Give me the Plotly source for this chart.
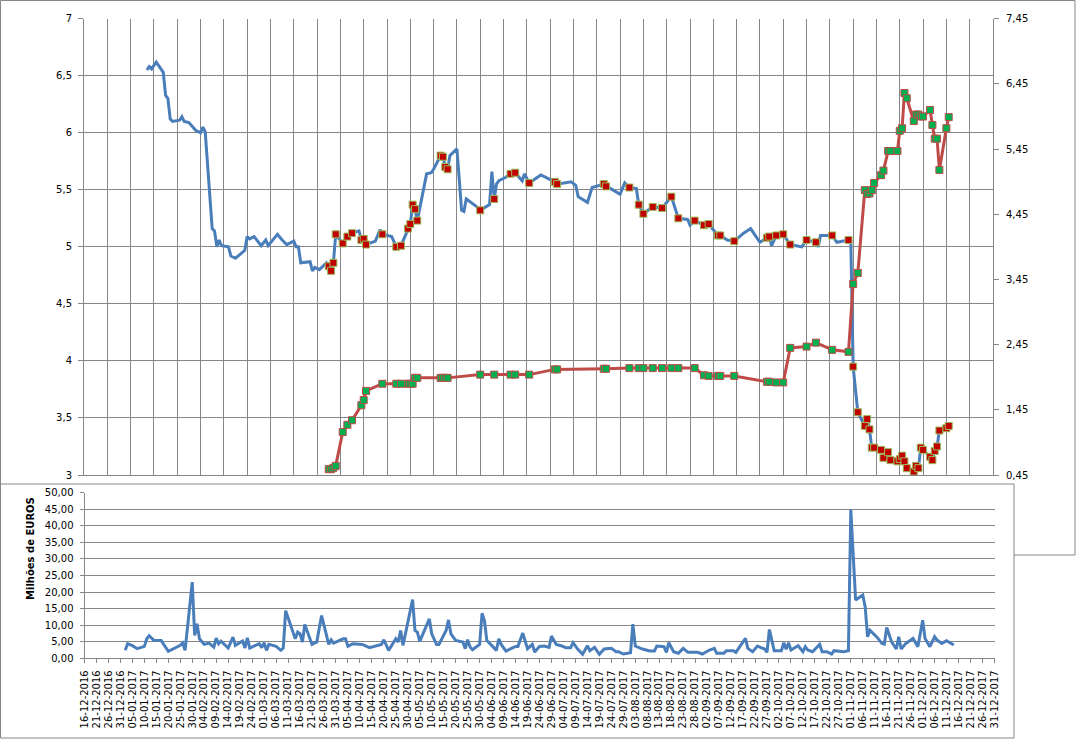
import plotly.graph_objects as go

# ---------------- data ----------------
price_dates = ["2017-01-02","2017-01-03","2017-01-04","2017-01-06","2017-01-09","2017-01-10","2017-01-11","2017-01-12","2017-01-13",
"2017-01-16","2017-01-17","2017-01-18","2017-01-20","2017-01-23","2017-01-24","2017-01-25","2017-01-26","2017-01-27","2017-01-30",
"2017-01-31","2017-02-01","2017-02-02","2017-02-03","2017-02-06","2017-02-07","2017-02-09","2017-02-13","2017-02-14","2017-02-15",
"2017-02-17","2017-02-20","2017-02-22","2017-02-23","2017-02-27","2017-03-01","2017-03-03","2017-03-06","2017-03-07","2017-03-08",
"2017-03-09","2017-03-13","2017-03-14","2017-03-15","2017-03-17","2017-03-20","2017-03-21","2017-03-22","2017-03-23","2017-03-24",
"2017-03-27","2017-03-29","2017-03-31","2017-04-03","2017-04-04","2017-04-05","2017-04-06","2017-04-10","2017-04-12","2017-04-13",
"2017-04-17","2017-04-19","2017-04-21","2017-04-24","2017-04-25","2017-04-26","2017-04-27","2017-04-28","2017-05-02","2017-05-04",
"2017-05-05","2017-05-08","2017-05-09","2017-05-10","2017-05-11","2017-05-12","2017-05-15","2017-05-17","2017-05-18","2017-05-19",
"2017-05-23","2017-05-25","2017-05-29","2017-05-30","2017-05-31","2017-06-01","2017-06-02","2017-06-05","2017-06-07","2017-06-09",
"2017-06-12","2017-06-13","2017-06-15","2017-06-20","2017-06-26","2017-06-27","2017-07-03","2017-07-05","2017-07-06","2017-07-10",
"2017-07-12","2017-07-17","2017-07-18","2017-07-20","2017-07-24","2017-07-26","2017-07-28","2017-07-31","2017-08-01","2017-08-03",
"2017-08-07","2017-08-11","2017-08-15","2017-08-18","2017-08-22","2017-08-23","2017-08-25","2017-08-29","2017-08-31","2017-09-04",
"2017-09-05","2017-09-08","2017-09-11","2017-09-15","2017-09-18","2017-09-22","2017-09-25","2017-09-26","2017-09-27","2017-09-29",
"2017-10-02","2017-10-05","2017-10-10","2017-10-12","2017-10-16","2017-10-17","2017-10-18","2017-10-23","2017-10-25","2017-10-30",
"2017-10-31","2017-11-01","2017-11-03","2017-11-06","2017-11-07","2017-11-08","2017-11-09","2017-11-10","2017-11-13","2017-11-14",
"2017-11-16","2017-11-17","2017-11-20","2017-11-21","2017-11-22","2017-11-23","2017-11-24","2017-11-27","2017-11-28","2017-11-29",
"2017-11-30","2017-12-01","2017-12-04","2017-12-05","2017-12-06","2017-12-07","2017-12-08","2017-12-11","2017-12-12"]
price_vals = [6.55,6.58,6.56,6.62,6.53,6.33,6.30,6.12,6.10,
6.11,6.14,6.10,6.09,6.02,6.01,6.00,6.05,6.01,5.16,
5.14,5.00,5.06,5.01,5.00,4.92,4.90,4.97,5.09,5.07,
5.09,5.01,5.06,5.01,5.11,5.06,5.02,5.05,5.00,5.00,
4.86,4.87,4.79,4.82,4.80,4.86,4.83,4.79,4.86,5.11,
5.03,5.09,5.12,5.14,5.06,5.07,5.02,5.05,5.15,5.11,
5.09,5.00,5.01,5.16,5.20,5.37,5.33,5.23,5.64,5.65,
5.68,5.80,5.79,5.70,5.68,5.80,5.86,5.32,5.31,5.42,
5.36,5.32,5.37,5.66,5.42,5.55,5.58,5.61,5.64,5.65,
5.58,5.64,5.56,5.63,5.57,5.55,5.57,5.54,5.44,5.39,
5.52,5.55,5.53,5.51,5.46,5.56,5.52,5.51,5.37,5.29,
5.35,5.34,5.44,5.25,5.24,5.19,5.23,5.19,5.20,5.10,
5.10,5.06,5.05,5.12,5.16,5.04,5.08,5.09,5.01,5.10,
5.11,5.02,5.00,5.06,5.04,5.00,5.10,5.10,5.04,5.06,
5.05,3.95,3.55,3.43,3.49,3.40,3.24,3.24,3.22,3.15,
3.20,3.13,3.12,3.14,3.17,3.12,3.06,3.03,3.08,3.06,
3.24,3.22,3.16,3.13,3.21,3.25,3.39,3.41,3.43]

mark_dates = ["2017-03-21","2017-03-22","2017-03-23","2017-03-24","2017-03-27","2017-03-29","2017-03-31","2017-04-04","2017-04-05",
"2017-04-06","2017-04-13","2017-04-19","2017-04-21","2017-04-24","2017-04-25","2017-04-26","2017-04-27","2017-04-28","2017-05-08",
"2017-05-09","2017-05-10","2017-05-11","2017-05-25","2017-05-31","2017-06-07","2017-06-09","2017-06-15","2017-06-26","2017-06-27",
"2017-07-17","2017-07-18","2017-07-28","2017-08-01","2017-08-03","2017-08-07","2017-08-11","2017-08-15","2017-08-18","2017-08-25",
"2017-08-29","2017-08-31","2017-09-04","2017-09-05","2017-09-11","2017-09-25","2017-09-26","2017-09-29","2017-10-02","2017-10-05",
"2017-10-12","2017-10-16","2017-10-23","2017-10-30","2017-11-01","2017-11-03","2017-11-06","2017-11-07","2017-11-08","2017-11-09",
"2017-11-10","2017-11-13","2017-11-14","2017-11-16","2017-11-17","2017-11-20","2017-11-21","2017-11-22","2017-11-23","2017-11-24",
"2017-11-27","2017-11-28","2017-11-29","2017-11-30","2017-12-01","2017-12-04","2017-12-05","2017-12-06","2017-12-07","2017-12-08",
"2017-12-11","2017-12-12"]
mark_price = [4.83,4.79,4.86,5.11,5.03,5.09,5.12,5.06,5.07,
5.02,5.11,5.00,5.01,5.16,5.20,5.37,5.33,5.23,5.80,
5.79,5.70,5.68,5.32,5.42,5.64,5.65,5.56,5.57,5.55,
5.55,5.53,5.52,5.37,5.29,5.35,5.34,5.44,5.25,5.23,
5.19,5.20,5.10,5.10,5.05,5.08,5.09,5.10,5.11,5.02,
5.06,5.04,5.10,5.06,3.95,3.55,3.43,3.49,3.40,3.24,
3.24,3.22,3.15,3.20,3.13,3.12,3.14,3.17,3.12,3.06,
3.03,3.08,3.06,3.24,3.22,3.16,3.13,3.21,3.25,3.39,
3.41,3.43]
mark_right = [0.54,0.54,0.56,0.59,1.11,1.22,1.29,1.52,1.60,
1.74,1.85,1.85,1.85,1.85,1.85,1.85,1.94,1.94,1.94,
1.94,1.94,1.94,1.99,1.99,1.99,1.99,1.99,2.07,2.07,
2.08,2.08,2.09,2.09,2.09,2.09,2.09,2.09,2.09,2.09,
1.98,1.97,1.97,1.97,1.97,1.88,1.88,1.87,1.87,2.40,
2.42,2.48,2.37,2.34,3.38,3.55,4.82,4.76,4.77,4.82,
4.93,5.05,5.12,5.42,5.42,5.42,5.73,5.77,6.31,6.23,
5.88,5.98,5.98,5.95,5.95,6.05,5.82,5.61,5.61,5.13,
5.77,5.94]

vol_dates = ["2017-01-02","2017-01-03","2017-01-05","2017-01-07","2017-01-10","2017-01-11","2017-01-12","2017-01-14","2017-01-17",
"2017-01-18","2017-01-20","2017-01-25","2017-01-26","2017-01-27","2017-01-30","2017-01-31","2017-02-01","2017-02-02","2017-02-04",
"2017-02-06","2017-02-08","2017-02-09","2017-02-10","2017-02-11","2017-02-14","2017-02-16","2017-02-17","2017-02-20","2017-02-21",
"2017-02-22","2017-02-23","2017-02-27","2017-02-28","2017-03-01","2017-03-02","2017-03-03","2017-03-06","2017-03-08","2017-03-09",
"2017-03-10","2017-03-14","2017-03-15","2017-03-16","2017-03-17","2017-03-18","2017-03-21","2017-03-23","2017-03-25","2017-03-28",
"2017-03-29","2017-03-30","2017-04-03","2017-04-04","2017-04-05","2017-04-07","2017-04-11","2017-04-14","2017-04-19","2017-04-20",
"2017-04-22","2017-04-25","2017-04-26","2017-04-27","2017-04-28","2017-05-02","2017-05-03","2017-05-04","2017-05-05","2017-05-09",
"2017-05-10","2017-05-12","2017-05-13","2017-05-16","2017-05-17","2017-05-18","2017-05-20","2017-05-23","2017-05-24","2017-05-25",
"2017-05-26","2017-05-27","2017-05-30","2017-05-31","2017-06-01","2017-06-02","2017-06-04","2017-06-06","2017-06-07","2017-06-08",
"2017-06-10","2017-06-14","2017-06-15","2017-06-17","2017-06-19","2017-06-21","2017-06-22","2017-06-24","2017-06-26","2017-06-28",
"2017-06-29","2017-07-01","2017-07-03","2017-07-05","2017-07-07","2017-07-08","2017-07-10","2017-07-12","2017-07-14","2017-07-15",
"2017-07-17","2017-07-19","2017-07-21","2017-07-24","2017-07-26","2017-07-27","2017-07-29","2017-08-01","2017-08-02","2017-08-03",
"2017-08-06","2017-08-09","2017-08-11","2017-08-12","2017-08-15","2017-08-16","2017-08-17","2017-08-19","2017-08-21","2017-08-23",
"2017-08-25","2017-08-29","2017-08-31","2017-09-03","2017-09-05","2017-09-06","2017-09-09","2017-09-10","2017-09-13","2017-09-14",
"2017-09-18","2017-09-19","2017-09-21","2017-09-23","2017-09-26","2017-09-27","2017-09-28","2017-09-30","2017-10-03","2017-10-04",
"2017-10-05","2017-10-06","2017-10-07","2017-10-10","2017-10-12","2017-10-13","2017-10-14","2017-10-16","2017-10-19","2017-10-20",
"2017-10-22","2017-10-24","2017-10-25","2017-10-29","2017-10-31","2017-11-01","2017-11-03","2017-11-06","2017-11-07","2017-11-08",
"2017-11-09","2017-11-12","2017-11-14","2017-11-15","2017-11-16","2017-11-18","2017-11-20","2017-11-21","2017-11-22","2017-11-24",
"2017-11-27","2017-11-29","2017-12-01","2017-12-02","2017-12-04","2017-12-06","2017-12-07","2017-12-09","2017-12-11","2017-12-14"]
vol_vals = [2.4,4.4,3.8,2.9,3.6,5.9,6.8,5.4,5.4,
4.4,2.1,3.9,4.6,2.4,23.0,6.9,10.4,5.9,4.2,
4.6,3.4,6.1,4.4,5.2,3.1,6.4,3.9,5.2,3.1,
6.2,3.1,4.4,3.2,4.7,2.4,4.2,3.6,2.4,3.1,
14.4,5.9,7.9,7.4,4.9,10.2,4.2,4.9,12.9,4.2,
5.6,4.6,5.9,5.9,3.6,4.4,4.2,3.2,4.2,5.6,
2.4,5.9,4.9,8.4,3.9,17.7,8.4,7.9,5.1,11.9,
7.4,4.2,4.2,8.4,11.6,7.4,5.4,4.9,2.9,5.6,
3.4,2.6,4.2,13.6,11.4,5.4,3.9,2.4,5.9,4.2,
2.2,3.6,3.6,7.6,2.9,4.2,1.9,3.6,3.7,3.3,
6.7,4.2,3.8,3.2,3.2,4.7,2.7,1.2,3.8,2.3,
3.3,1.2,2.8,3.0,2.0,2.0,1.3,1.7,10.3,3.7,
2.8,2.2,2.2,3.7,3.5,1.8,4.7,2.0,1.5,3.0,
1.8,1.8,1.3,2.5,3.0,1.5,1.5,2.3,2.3,1.8,
6.0,3.0,2.0,3.7,2.8,1.8,8.7,2.3,2.3,4.7,
2.7,4.7,2.5,3.8,2.0,3.5,2.5,2.0,4.2,2.0,
2.0,1.3,2.3,2.0,2.3,44.9,17.6,19.1,15.5,6.5,
8.5,6.3,4.5,4.3,9.3,5.0,2.8,6.5,2.8,4.5,
6.0,3.5,11.5,6.0,3.5,6.5,5.5,4.5,5.3,4.0]

vol_title = "Milhões de EUROS"

# ---------------- styling ----------------
W, H = 1076, 743
GRID = "#868686"
BLUE = "#4A7EBB"
RED = "#BE4B48"

def px_x(v):
    return v / W

def px_y(v):
    return 1 - v / H

fig = go.Figure()

fig.add_trace(go.Scatter(x=price_dates, y=price_vals, mode="lines",
                         line=dict(color=BLUE, width=3), xaxis="x", yaxis="y"))
fig.add_trace(go.Scatter(x=mark_dates, y=mark_right, mode="lines+markers",
                         line=dict(color=RED, width=3),
                         marker=dict(symbol="square", size=7, color="#00B050",
                                     line=dict(color=RED, width=1)),
                         xaxis="x", yaxis="y2"))
fig.add_trace(go.Scatter(x=mark_dates, y=mark_price, mode="markers",
                         marker=dict(symbol="square", size=7, color="#C00000",
                                     line=dict(color="#9BBB59", width=1)),
                         xaxis="x", yaxis="y3"))
fig.add_trace(go.Scatter(x=vol_dates, y=vol_vals, mode="lines",
                         line=dict(color=BLUE, width=3), xaxis="x2", yaxis="y4"))

tickfont = dict(family="DejaVu Sans", size=10, color="#000000")

fig.update_layout(
    width=W, height=H,
    margin=dict(l=0, r=0, t=0, b=0, pad=0, autoexpand=False),
    paper_bgcolor="white",
    plot_bgcolor="rgba(0,0,0,0)",
    separators=",.",
    showlegend=False,
    font=tickfont,
    xaxis=dict(domain=[px_x(84), px_x(993)], anchor="y",
               type="date", range=["2016-12-06", "2017-12-31"],
               tick0="2016-12-06", dtick=864000000,
               showgrid=True, gridcolor=GRID, gridwidth=1,
               showticklabels=False, ticks="",
               showline=True, linecolor=GRID, linewidth=1, zeroline=False,
               automargin=False),
    yaxis=dict(domain=[px_y(475), px_y(18.7)], anchor="x",
               range=[3, 7], dtick=0.5, tick0=3,
               showgrid=True, gridcolor=GRID, gridwidth=1,
               ticks="outside", ticklen=5, tickcolor=GRID,
               ticklabelstandoff=4,
               showline=True, linecolor=GRID, linewidth=1, zeroline=False,
               tickfont=tickfont, automargin=False),
    yaxis2=dict(overlaying="y", side="right", anchor="x",
                range=[0.45, 7.45], dtick=1, tick0=0.45, tickformat=".2f",
                showgrid=False, ticks="outside", ticklen=5, tickcolor=GRID,
                ticklabelstandoff=5,
                showline=True, linecolor=GRID, linewidth=1, zeroline=False,
                tickfont=tickfont, automargin=False),
    yaxis3=dict(overlaying="y", anchor="x", range=[3, 7], visible=False),
    xaxis2=dict(domain=[px_x(84.5), px_x(994.5)], anchor="y4",
                type="date", range=["2016-12-16", "2017-12-31"],
                tick0="2016-12-16", dtick=432000000, tickformat="%d-%m-%Y",
                tickangle=-90, ticks="outside", ticklen=4, tickcolor=GRID,
                ticklabelstandoff=3,
                showgrid=False, showline=True, linecolor=GRID, linewidth=1,
                zeroline=False, tickfont=tickfont, automargin=False),
    yaxis4=dict(domain=[px_y(658.3), px_y(492.7)], anchor="x2",
                range=[0, 50], dtick=5, tick0=0, tickformat=".2f",
                showgrid=True, gridcolor=GRID, gridwidth=1,
                ticks="outside", ticklen=4, tickcolor=GRID,
                ticklabelstandoff=4,
                showline=True, linecolor=GRID, linewidth=1, zeroline=False,
                tickfont=tickfont, automargin=False),
    shapes=[
        dict(type="rect", xref="paper", yref="paper", layer="below",
             x0=px_x(0.5), x1=px_x(1075), y0=px_y(555), y1=px_y(0.5),
             line=dict(color=GRID, width=1), fillcolor="rgba(0,0,0,0)"),
        dict(type="rect", xref="paper", yref="paper", layer="below",
             x0=px_x(0.5), x1=px_x(1014), y0=px_y(738), y1=px_y(484),
             line=dict(color=GRID, width=1), fillcolor="white"),
    ],
    annotations=[
        dict(text="<b>" + vol_title + "</b>", xref="paper", yref="paper",
             x=px_x(30), y=px_y(549), showarrow=False, textangle=-90,
             xanchor="center", yanchor="middle",
             font=dict(family="DejaVu Sans", size=10, color="#000000")),
    ],
)

fig.write_html("out.html", config={"responsive": False, "displayModeBar": False},
               post_script="document.body.style.margin='0px';"
                           "document.body.style.padding='0px';"
                           "document.body.style.overflow='hidden';")
